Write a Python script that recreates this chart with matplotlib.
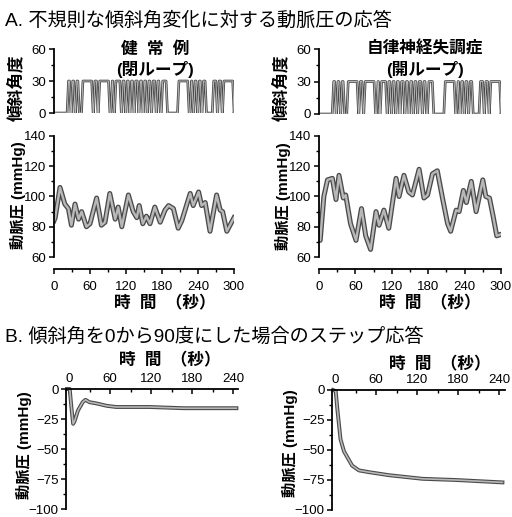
import numpy as np
import matplotlib
matplotlib.use('Agg')
import matplotlib.pyplot as plt
from matplotlib.ticker import MultipleLocator

plt.rcParams['font.family'] = ['Liberation Sans', 'Noto Sans CJK JP', 'DejaVu Sans']

W, H = 512, 517

# tilt input: switching times (s) of the 0 <-> 30 deg sequence, starts at 0
tilt_switch_t = [23, 27, 30, 34, 37, 41, 47, 64, 67, 72, 75, 92, 96, 99, 102, 111,
                 114, 118, 121, 125, 128, 132, 135, 140, 143, 147, 150, 154, 157, 161,
                 164, 169, 172, 176, 180, 188, 207, 224, 228, 231, 234, 238, 241, 245,
                 248, 253, 265, 271, 274, 279, 282, 299]

# arterial pressure, normal subject (closed loop)
bp_normal_t = [0, 2, 10, 18, 24, 29, 35, 41, 46, 54, 60, 71, 79, 85, 93, 102, 107, 113,
               124, 132, 138, 142, 148, 154, 160, 168, 177, 185, 191, 199, 207, 213,
               227, 232, 241, 246, 252, 260, 271, 277, 281, 288, 300]
bp_normal_v = [84, 86, 106, 95, 92, 81, 95, 85, 90, 80, 82, 99, 81, 83, 102, 85, 93, 80,
               101, 90, 86, 94, 82, 87, 82, 93, 83, 91, 94, 92, 79, 84,
               102, 94, 103, 94, 96, 77, 101, 91, 90, 77, 86]

# arterial pressure, autonomic failure (open loop)
bp_dys_t = [0, 2, 8, 14, 22, 28, 33, 40, 44, 52, 61, 70, 77, 85, 94, 99, 107, 115, 127,
            132, 140, 148, 154, 165, 173, 179, 187, 195, 204, 212, 217, 226, 231, 238,
            243, 251, 259, 270, 275, 281, 287, 293, 300]
bp_dys_v = [72, 71, 100, 111, 112, 98, 114, 99, 101, 82, 71, 92, 74, 65, 90, 81, 91, 79,
            112, 100, 114, 103, 101, 118, 99, 101, 115, 117, 98, 82, 77, 91, 90, 104,
            96, 110, 90, 111, 100, 99, 87, 74, 75]

# step response 0 -> 90 deg
step_normal_t = [-3, 1, 3.4, 6, 8, 13, 20, 24, 30, 40, 55, 69, 118, 167, 245]
step_normal_v = [0, 0, -15, -29, -27, -18, -11, -9, -11, -12, -14, -15, -15, -16, -16]
step_dys_t = [-3, 1, 3.4, 6, 8, 13, 18, 25, 35, 50, 79, 128, 177, 245]
step_dys_v = [0, -1, -16, -30, -41, -51, -56, -63, -67, -68.5, -71, -74, -75, -77]

fig = plt.figure(figsize=(W / 100, H / 100), dpi=100)


def px_rect(x0, y0, x1, y1):
    return [x0 / W, 1 - y1 / H, (x1 - x0) / W, (y1 - y0) / H]


def ftext(x, y, s, **kw):
    fig.text(x / W, 1 - y / H, s, ha=kw.pop('ha', 'center'), va=kw.pop('va', 'center'), **kw)


def tilt_trace(switch_t, ramp=2.4, t_end=300):
    xs, ys = [0], [0]
    level = 0
    for s in switch_t:
        new = 30 if level == 0 else 0
        xs += [s - ramp / 2, s + ramp / 2]
        ys += [level, new]
        level = new
    xs.append(t_end)
    ys.append(level)
    return xs, ys


def draw_trace(ax, x, y, lw_out, lw_in, clip=True):
    ax.plot(x, y, color='#4a4a4a', lw=lw_out, solid_joinstyle='round', clip_on=clip)
    ax.plot(x, y, color='#b8b8b8', lw=lw_in, solid_joinstyle='round', clip_on=clip)


def style(ax):
    for sp in ['top', 'right']:
        ax.spines[sp].set_visible(False)
    for sp in ax.spines.values():
        sp.set_linewidth(1.3)
    ax.tick_params(which='major', direction='out', length=3.5, width=1.1, labelsize=9.5, pad=2)
    ax.tick_params(which='minor', direction='out', length=2.2, width=1.0)


# ---- A: tilt + BP ----
tx, ty = tilt_trace(tilt_switch_t)
panels = [
    (54, 234, 49, 113, 136, 257, bp_normal_t, bp_normal_v),
    (319, 501, 49, 114, 136, 257, bp_dys_t, bp_dys_v),
]
for x0, x1, ty0, ty1, by0, by1, bt, bv in panels:
    ax = fig.add_axes(px_rect(x0, ty0, x1, ty1))
    style(ax)
    draw_trace(ax, tx, ty, 1.9, 0.7)
    ax.set_xlim(0, 300)
    ax.set_ylim(0, 60)
    ax.spines['bottom'].set_visible(False)
    ax.set_xticks([])
    ax.set_yticks([0, 30, 60])
    ax.yaxis.set_minor_locator(MultipleLocator(15))
    ax.patch.set_alpha(0)

    ax = fig.add_axes(px_rect(x0, by0, x1, by1))
    style(ax)
    draw_trace(ax, bt, bv, 3.6, 1.7)
    ax.set_xlim(0, 300)
    ax.set_ylim(60, 140)
    ax.set_yticks([60, 80, 100, 120, 140])
    ax.yaxis.set_minor_locator(MultipleLocator(10))
    ax.set_xticks([0, 60, 120, 180, 240, 300])
    ax.xaxis.set_minor_locator(MultipleLocator(30))
    ax.spines['bottom'].set_position(('outward', 8.6))
    ax.tick_params(axis='x', pad=5)
    ax.patch.set_alpha(0)

# ---- B: step responses ----
steps = [
    (66.3, 238.5, 389, 509, step_normal_t, step_normal_v),
    (332.3, 504.5, 390, 510, step_dys_t, step_dys_v),
]
for x0, x1, y0, y1, st, sv in steps:
    ax = fig.add_axes(px_rect(x0, y0, x1, y1))
    style(ax)
    ax.spines['top'].set_visible(True)
    ax.spines['top'].set_linewidth(1.3)
    ax.spines['bottom'].set_visible(False)
    ax.xaxis.tick_top()
    draw_trace(ax, st, sv, 2.8, 1.2, clip=False)
    ax.set_xlim(-4, 248)
    ax.set_ylim(-100, 0)
    ax.set_xticks([0, 60, 120, 180, 240])
    ax.xaxis.set_minor_locator(MultipleLocator(30))
    ax.set_yticks([0, -25, -50, -75, -100])
    ax.yaxis.set_minor_locator(MultipleLocator(12.5))
    ax.tick_params(axis='x', which='both', direction='in', pad=3)
    ax.patch.set_alpha(0)

# ---- texts ----
ftext(5, 21, 'A. 不規則な傾斜角変化に対する動脈圧の応答', ha='left', fontsize=13.8)
ftext(5, 337, 'B. 傾斜角を0から90度にした場合のステップ応答', ha='left', fontsize=13.8)

ftext(155, 49, '健  常  例', fontsize=12, fontweight='bold')
ftext(155, 69, '(閉ループ)', fontsize=12, fontweight='bold')
ftext(425, 49, '自律神経失調症', fontsize=12, fontweight='bold')
ftext(425, 69, '(開ループ)', fontsize=12, fontweight='bold')

ftext(17, 88, '傾斜角度', rotation=90, fontsize=12, fontweight='bold')
ftext(282, 88, '傾斜角度', rotation=90, fontsize=12, fontweight='bold')
ftext(18, 195, '動脈圧 (mmHg)', rotation=90, fontsize=11, fontweight='bold')
ftext(283, 196, '動脈圧 (mmHg)', rotation=90, fontsize=11, fontweight='bold')
ftext(24, 445, '動脈圧 (mmHg)', rotation=90, fontsize=11, fontweight='bold')
ftext(290, 443, '動脈圧 (mmHg)', rotation=90, fontsize=11, fontweight='bold')

ftext(165, 303, '時  間  （秒）', fontsize=12, fontweight='bold')
ftext(430, 303, '時  間  （秒）', fontsize=12, fontweight='bold')
ftext(170, 360, '時  間  （秒）', fontsize=12, fontweight='bold')
ftext(440, 364, '時  間  （秒）', fontsize=12, fontweight='bold')

fig.savefig('out.png', dpi=100)
